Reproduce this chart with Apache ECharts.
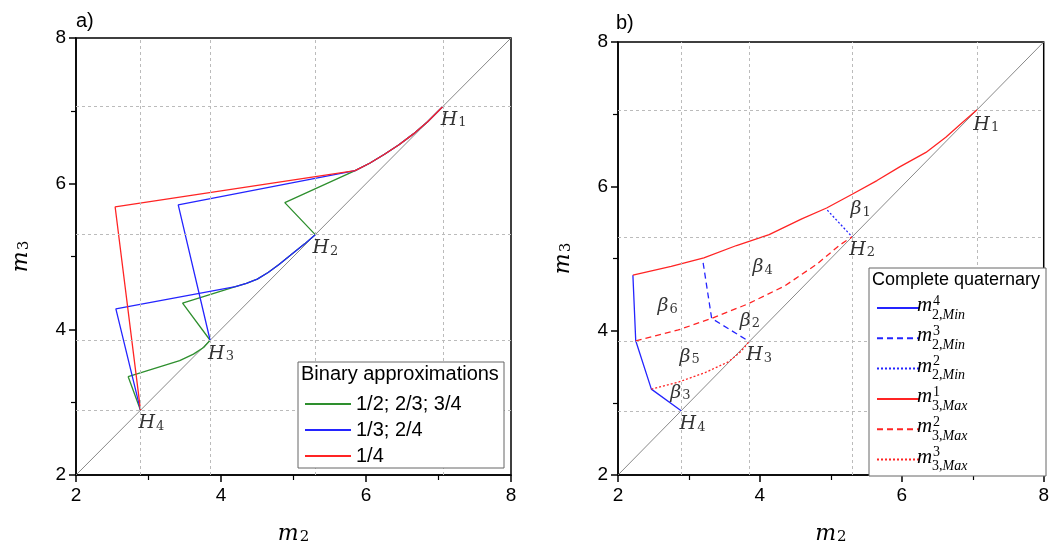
<!DOCTYPE html>
<html>
<head>
<meta charset="utf-8">
<script src="https://cdn.jsdelivr.net/npm/echarts@6/dist/echarts.min.js"></script>
<style>
  html, body { margin: 0; padding: 0; background: #fff; }
  #chart { width: 1052px; height: 550px; }
</style>
</head>
<body>
<div id="chart"></div>
<script>
// pure-component points on the diagonal
const hVals = [2.89, 3.85, 5.30, 7.06];
const diag = [[2, 2], [8, 8]];

// panel a: shared curved tails
const curveToH1 = [[5.85, 6.18], [6.05, 6.28], [6.25, 6.40], [6.45, 6.53], [6.65, 6.68], [6.85, 6.85], [7.06, 7.06]];
const curveToH2 = [[4.2, 4.585], [4.35, 4.63], [4.5, 4.69], [4.65, 4.78], [4.8, 4.89], [5.0, 5.05], [5.15, 5.17], [5.30, 5.30]];
const curveToH3 = [[3.43, 3.57], [3.62, 3.66], [3.76, 3.75], [3.85, 3.85]];

// panel a: start point + corner of each binary path
const green1 = [[5.30, 5.30], [4.88, 5.74]];
const green2 = [[3.85, 3.85], [3.47, 4.36]];
const green3 = [[2.89, 2.89], [2.72, 3.35]];
const blue1 = [[3.85, 3.85], [3.41, 5.71]];
const blue2 = [[2.89, 2.89], [2.55, 4.28]];
const red1 = [[2.89, 2.89], [2.54, 5.68]];

// panel b
const m3Max1 = [[2.21, 4.77], [2.75, 4.89], [3.21, 5.01], [3.67, 5.18], [4.13, 5.33], [4.59, 5.55], [4.94, 5.70], [5.30, 5.89], [5.65, 6.08], [5.97, 6.27], [6.34, 6.47], [6.62, 6.68], [6.85, 6.88], [7.06, 7.06]];
const m3Max2 = [[2.25, 3.86], [2.85, 4.01], [3.32, 4.17], [3.83, 4.37], [4.35, 4.62], [4.80, 4.92], [5.13, 5.19], [5.30, 5.30]];
const m3Max3 = [[2.47, 3.19], [2.86, 3.29], [3.23, 3.42], [3.56, 3.57], [3.73, 3.71], [3.85, 3.85]];
const m2Min4 = [[2.21, 4.77], [2.25, 3.86], [2.47, 3.19], [2.89, 2.89]];
const m2Min3 = [[3.20, 4.94], [3.32, 4.17], [3.85, 3.85]];
const m2Min2 = [[4.95, 5.67], [5.30, 5.30]];

// annotations
const hIdx = ['1', '2', '3', '4'];
const hPosA = [[7.21, 6.88], [5.44, 5.11], [4.0, 3.66], [3.04, 2.71]];
const hPosB = [[7.19, 6.85], [5.44, 5.12], [3.99, 3.66], [3.05, 2.70]];
const betaIdx = ['1', '2', '3', '4', '5', '6'];
const betaPos = [[5.42, 5.68], [3.86, 4.14], [2.88, 3.14], [4.04, 4.88], [3.01, 3.64], [2.70, 4.34]];

const legendA = ['1/2; 2/3; 3/4', '1/3; 2/4', '1/4'];
const legendB = ['m2Min4', 'm2Min3', 'm2Min2', 'm3Max1', 'm3Max2', 'm3Max3'];
const legendBSup = ['4', '3', '2', '1', '2', '3'];
const legendBSub = ['2,', '2,', '2,', '3,', '3,', '3,'];
const legendBIdx = ['Min', 'Min', 'Min', 'Max', 'Max', 'Max'];

const GREEN = '#2e8f2e', BLUE = '#2424ff', RED = '#ff2424';
const serif = 'DejaVu Serif';
const sans = 'Liberation Sans';

// italic symbol with lowered upright index
function subRich(size) {
  return {
    b: { fontFamily: serif, fontStyle: 'italic', fontSize: size, lineHeight: size, color: '#000' },
    s: { fontFamily: serif, fontSize: Math.round(size * 0.68), lineHeight: Math.round(size * 0.68), padding: [Math.round(size * 0.55), 0, 0, 1], verticalAlign: 'bottom', color: '#000' }
  };
}

function axisX(i) {
  return {
    type: 'value', gridIndex: i, min: 2, max: 8, interval: 2,
    splitLine: { show: false },
    axisLine: { lineStyle: { color: '#000', width: 1.5 } },
    axisTick: { length: 7, lineStyle: { color: '#000', width: 1.5 } },
    minorTick: { show: true, splitNumber: 2, length: 5, lineStyle: { color: '#000', width: 1.2 } },
    axisLabel: { fontSize: 19, color: '#000', fontFamily: sans, margin: 11 },
    name: '{b|m}{s|2}', nameLocation: 'middle', nameGap: 48,
    nameTextStyle: { rich: subRich(22) }
  };
}
function axisY(i) {
  const a = axisX(i);
  a.name = '{b|m}{s|3}';
  a.nameGap = 44;
  a.axisLabel = { fontSize: 19, color: '#000', fontFamily: sans, margin: 10 };
  return a;
}

function line(name, data, color, type, xi) {
  return {
    name: name, type: 'line', xAxisIndex: xi, yAxisIndex: xi, data: data,
    symbol: 'none', smooth: false, z: 3,
    lineStyle: { color: color, width: 1.3, type: type },
    itemStyle: { color: color }
  };
}

function refLines(xi) {
  return {
    type: 'line', xAxisIndex: xi, yAxisIndex: xi, data: diag, symbol: 'none', z: 2,
    lineStyle: { color: '#888', width: 1 },
    markLine: {
      silent: true, symbol: 'none', label: { show: false },
      lineStyle: { color: '#bbb', type: [3, 3], width: 1 },
      data: hVals.map(v => ({ xAxis: v })).concat(hVals.map(v => ({ yAxis: v })))
    }
  };
}

function labels(pos, letter, idx, xi) {
  return {
    type: 'scatter', xAxisIndex: xi, yAxisIndex: xi, symbolSize: 0, z: 6, silent: true,
    data: pos,
    label: {
      show: true, position: 'inside',
      formatter: p => '{b|' + letter + '}{s|' + idx[p.dataIndex] + '}',
      rich: subRich(19)
    }
  };
}

const chart = echarts.init(document.getElementById('chart'));

const legendLabels = [];
legendB.forEach((n, i) => {
  const y = 307 + i * 30.3;
  legendLabels.push(
    { type: 'text', z: 50, left: 917, top: y - 12, style: { text: 'm', font: 'italic 21px "Liberation Serif"', fill: '#000' } },
    { type: 'text', z: 50, left: 933, top: y - 13, style: { text: legendBSup[i], font: '14px "Liberation Serif"', fill: '#000' } },
    { type: 'text', z: 50, left: 932, top: y + 1, style: {
      text: '{d|' + legendBSub[i] + '}{i|' + legendBIdx[i] + '}',
      rich: {
        d: { font: '14px "Liberation Serif"', fill: '#000' },
        i: { font: 'italic 14px "Liberation Serif"', fill: '#000' }
      }
    } }
  );
});

chart.setOption({
  animation: false,
  backgroundColor: '#fff',
  title: [
    { text: 'a)', left: 71, top: 6, textStyle: { fontFamily: sans, fontWeight: 'normal', fontSize: 20, color: '#000' } },
    { text: 'b)', left: 611, top: 8, textStyle: { fontFamily: sans, fontWeight: 'normal', fontSize: 20, color: '#000' } }
  ],
  grid: [
    { left: 76, top: 38, width: 435, height: 438, show: true, borderColor: '#000', borderWidth: 1.5 },
    { left: 618, top: 42, width: 432, height: 438, show: true, borderColor: '#000', borderWidth: 1.5 }
  ],
  xAxis: [axisX(0), axisX(1)],
  yAxis: [axisY(0), axisY(1)],
  legend: [
    {
      data: legendA, orient: 'vertical', left: 299, top: 389, z: 20,
      itemWidth: 46, itemHeight: 14, itemGap: 6, itemStyle: { opacity: 0 },
      textStyle: { fontFamily: sans, fontSize: 20, color: '#000', lineHeight: 20 }
    },
    {
      data: legendB, orient: 'vertical', left: 871, top: 288, z: 20,
      itemWidth: 42, itemHeight: 14, itemGap: 0.3, itemStyle: { opacity: 0 },
      formatter: () => ' ',
      textStyle: { fontSize: 12, lineHeight: 30 }
    }
  ],
  graphic: [
    { type: 'rect', z: 10, shape: { x: 298, y: 362, width: 206, height: 106 }, style: { fill: '#fff', stroke: '#666', lineWidth: 1 } },
    { type: 'text', z: 50, left: 301, top: 364, style: { text: 'Binary approximations', font: '20px "Liberation Sans"', fill: '#000' } },
    { type: 'rect', z: 10, shape: { x: 869, y: 268, width: 177, height: 208 }, style: { fill: '#fff', stroke: '#666', lineWidth: 1 } },
    { type: 'text', z: 50, left: 872, top: 271, style: { text: 'Complete quaternary', font: '18px "Liberation Sans"', fill: '#000' } }
  ].concat(legendLabels),
  series: [
    refLines(0),
    refLines(1),
    line(legendA[0], green1.concat(curveToH1), GREEN, 'solid', 0),
    line(legendA[0], green2.concat(curveToH2), GREEN, 'solid', 0),
    line(legendA[0], green3.concat(curveToH3), GREEN, 'solid', 0),
    line(legendA[1], blue1.concat(curveToH1), BLUE, 'solid', 0),
    line(legendA[1], blue2.concat(curveToH2), BLUE, 'solid', 0),
    line(legendA[2], red1.concat(curveToH1), RED, 'solid', 0),
    line('m2Min4', m2Min4, BLUE, 'solid', 1),
    line('m2Min3', m2Min3, BLUE, [6, 4], 1),
    line('m2Min2', m2Min2, BLUE, [2, 2], 1),
    line('m3Max1', m3Max1, RED, 'solid', 1),
    line('m3Max2', m3Max2, RED, [6, 4], 1),
    line('m3Max3', m3Max3, RED, [2, 2], 1),
    labels(hPosA, 'H', hIdx, 0),
    labels(hPosB, 'H', hIdx, 1),
    labels(betaPos, '\u03b2', betaIdx, 1)
  ]
});
</script>
</body>
</html>
